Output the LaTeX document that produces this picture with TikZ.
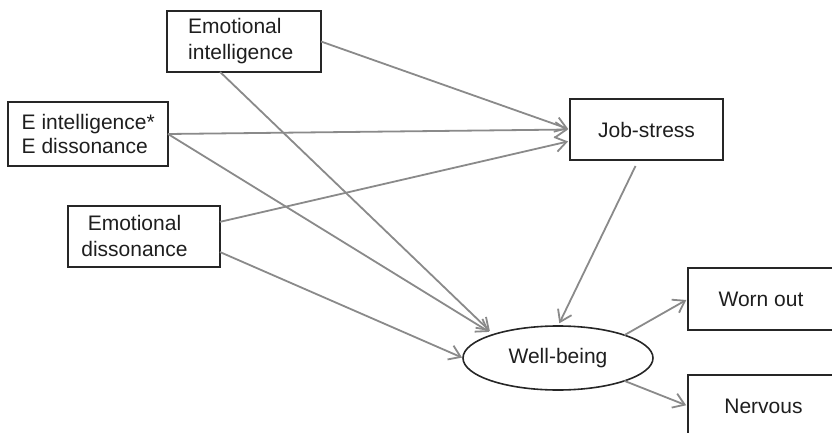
\documentclass[tikz,border=0pt]{standalone}
\usepackage{fontspec}
\setmainfont{Liberation Sans}
\usetikzlibrary{arrows.meta,calc,shapes.geometric}
\definecolor{boxcol}{HTML}{262626}
\definecolor{arrcol}{HTML}{8A8A8A}
\definecolor{txtcol}{HTML}{1E1E1E}
\begin{document}
\begin{tikzpicture}[x=1pt,y=-1pt,
  box/.style={draw=boxcol,line width=1.6pt,inner sep=0pt,outer sep=0pt,
    font=\fontsize{21}{25.5}\selectfont,text=txtcol},
  lbl/.style={font=\fontsize{21}{25.5}\selectfont,inner sep=0pt,text=txtcol},
  conn/.style={draw=arrcol,line width=1.8pt,
    -{Straight Barb[length=11pt,width=15pt]}}]
\useasboundingbox (0,0) rectangle (832,433);
% boxes
\node[box,minimum width=154pt,minimum height=61pt] (ei) at (244,41.5) {};
\node[lbl,align=left,anchor=west] (eit) at (188,41) {Emotional\\intelligence};
\node[box,minimum width=160pt,minimum height=64pt] (ex) at (88,134) {};
\node[lbl,font=\fontsize{21}{23.5}\selectfont,align=left,anchor=west] (ext) at (21.5,134) {E intelligence*\\E dissonance};
\node[box,minimum width=152pt,minimum height=61pt] (ed) at (144,236.5) {};
\node[lbl,align=center] (edt) at (134.5,236) {Emotional\\dissonance};
\node[box,minimum width=153pt,minimum height=61pt] (js) at (646.5,129.5) {Job-stress};
\node[box,ellipse,minimum width=190pt,minimum height=64pt] (wb) at (558,358) {Well-being};
\node[box,minimum width=146pt,minimum height=62pt] (wo) at (761,299) {Worn out};
\node[box,minimum width=146pt,minimum height=62pt] (nv) at (761,406) {\hspace*{5pt}Nervous};
% connectors
\draw[conn,shorten >=2pt] (ei.east) -- (js.west);
\draw[conn,shorten >=2pt] (ex.east) -- (js.west);
\draw[conn,shorten >=2pt] ($(ed.north east)!0.26!(ed.south east)$) -- ($(js.west)+(0,11.5)$);
\draw[conn,shorten >=5pt] ($(ei.south west)!0.345!(ei.south east)$) -- (wb.160);
\draw[conn,shorten >=5pt] (ex.east) -- (wb.160);
\draw[conn,shorten >=1pt] ($(ed.north east)!0.755!(ed.south east)$) -- (wb.west);
\draw[conn,shorten >=3pt] ($(js.south)+(-11,6)$) -- (wb.north);
\draw[conn,shorten >=2pt] (wb.19) -- (wo.west);
\draw[conn,shorten >=2pt] (wb.-19) -- (nv.west);
\end{tikzpicture}
\end{document}
